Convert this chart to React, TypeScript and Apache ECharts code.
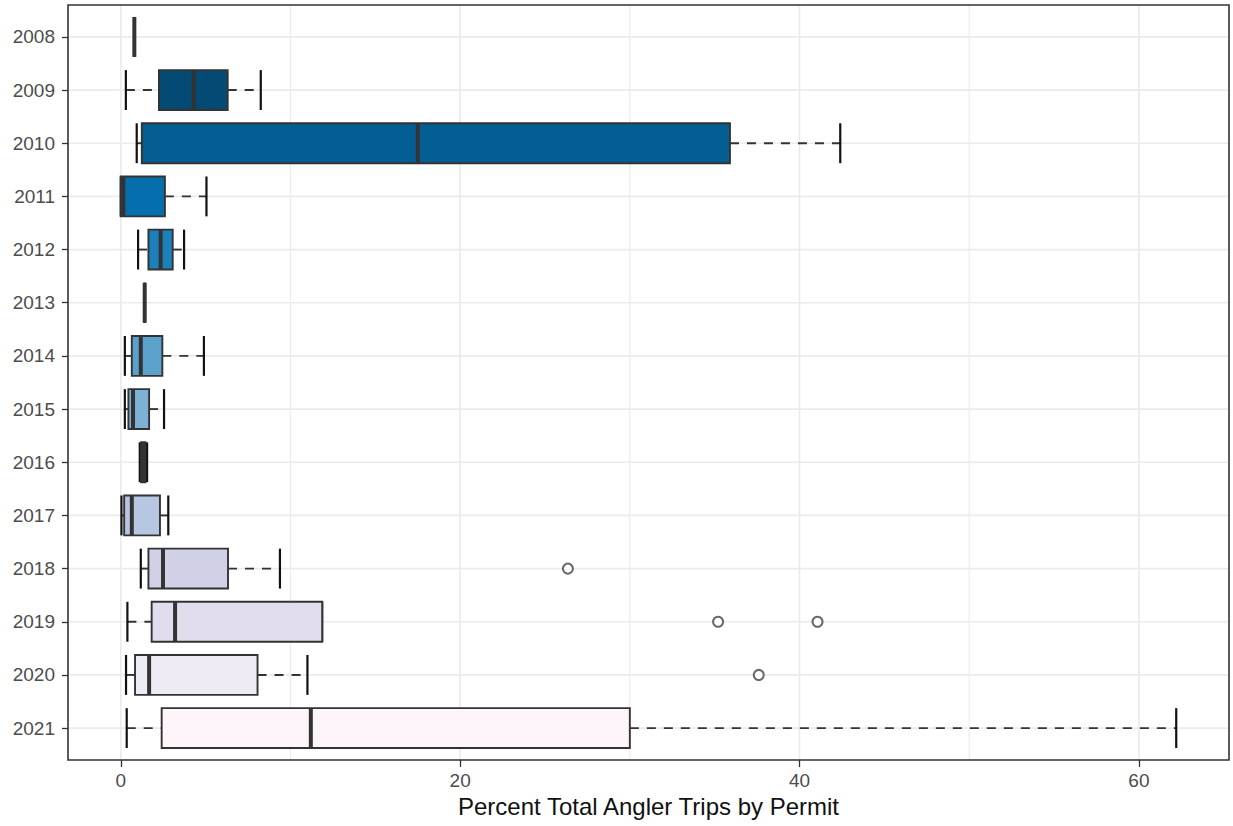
import React, { useEffect, useRef } from "react";
import * as echarts from "echarts";

const years = ["2008", "2009", "2010", "2011", "2012", "2013", "2014", "2015", "2016", "2017", "2018", "2019", "2020", "2021"];
const whiskerLow = [0.8, 0.3, 0.94, 0.0, 1.02, 1.41, 0.24, 0.24, 1.12, 0.04, 1.18, 0.39, 0.31, 0.35];
const q1 = [0.8, 2.25, 1.24, 0.0, 1.63, 1.41, 0.65, 0.45, 1.2, 0.2, 1.63, 1.82, 0.84, 2.41];
const medians = [0.8, 4.3, 17.5, 0.15, 2.35, 1.41, 1.18, 0.72, 1.35, 0.65, 2.49, 3.2, 1.67, 11.2];
const q3 = [0.8, 6.3, 35.9, 2.6, 3.06, 1.41, 2.45, 1.67, 1.45, 2.31, 6.32, 11.87, 8.06, 30.0];
const whiskerHigh = [0.8, 8.25, 42.4, 5.05, 3.73, 1.41, 4.9, 2.55, 1.55, 2.8, 9.38, 11.87, 11.0, 62.2];
const fillColors = ["#023858", "#034a75", "#045e94", "#056fae", "#1b80bc", "#3a91c4", "#5aa1cc", "#7db1d6", "#9bbbdb", "#b7c6e1", "#d0d1e6", "#e1ddee", "#efebf4", "#fdf5fa"];

const outlierYears = ["2018", "2019", "2019", "2020"];
const outlierValues = [26.35, 35.2, 41.06, 37.6];

const xMajorTicks = [0, 20, 40, 60];
const xMinorTicks = [10, 30, 50];

const xTitle = "Percent Total Angler Trips by Permit";
const FONT = "'Liberation Sans', Arial, Helvetica, sans-serif";

export default function App() {
  const ref = useRef<HTMLDivElement>(null);
  useEffect(() => {
    if (!ref.current) return;
    const chart = echarts.init(ref.current, null, { renderer: "svg" });
    const rowIdx = years.map((_, i) => i);
    const boxData = years.map((_, i) => [i, whiskerLow[i], q1[i], medians[i], q3[i], whiskerHigh[i]]);
    const outData = outlierValues.map((v, k) => [v, years.indexOf(outlierYears[k])]);
    const xGridData = [
      ...xMajorTicks.map((v) => [v, 0, 1]),
      ...xMinorTicks.map((v) => [v, 0, 0]),
    ];
    const yGridData = rowIdx.map((i) => [0, i]);

    const option: any = {
      animation: false,
      textStyle: { fontFamily: FONT },
      grid: {
        left: 68,
        top: 5,
        width: 1161,
        height: 755,
        show: true,
        borderColor: "#333333",
        borderWidth: 1.6,
        backgroundColor: "#ffffff",
        containLabel: false,
      },
      xAxis: {
        type: "value",
        min: -3.11,
        max: 65.31,
        position: "bottom",
        axisLine: { show: false, onZero: false },
        axisTick: {
          show: true,
          inside: false,
          customValues: xMajorTicks,
          length: 7,
          lineStyle: { color: "#333333", width: 1.3 },
        },
        axisLabel: {
          customValues: xMajorTicks,
          fontSize: 19,
          color: "#4d4d4d",
          margin: 11,
          fontFamily: FONT,
        },
        splitLine: { show: false },
        name: xTitle,
        nameLocation: "middle",
        nameGap: 31,
        nameTextStyle: { fontSize: 24, color: "#111111", fontFamily: FONT },
      },
      yAxis: {
        type: "value",
        min: -0.6,
        max: 13.6,
        inverse: true,
        position: "left",
        axisLine: { show: false, onZero: false },
        axisTick: {
          show: true,
          inside: false,
          customValues: rowIdx,
          length: 6,
          lineStyle: { color: "#333333", width: 1.3 },
        },
        axisLabel: {
          customValues: rowIdx,
          formatter: (v: number) => years[Math.round(v)] ?? "",
          fontSize: 19,
          color: "#4d4d4d",
          margin: 13,
          fontFamily: FONT,
        },
        splitLine: { show: false },
      },
      series: [
        {
          type: "custom",
          name: "xgrid",
          z: 0,
          silent: true,
          data: xGridData,
          encode: { x: 0, y: 1 },
          renderItem: (params: any, api: any) => {
            const cs = params.coordSys;
            const x = api.coord([api.value(0), 0])[0];
            const major = api.value(2) === 1;
            return {
              type: "line",
              shape: { x1: x, y1: cs.y + 1, x2: x, y2: cs.y + cs.height - 1 },
              style: { stroke: "#ebebeb", lineWidth: major ? 1.7 : 1.2 },
            };
          },
        },
        {
          type: "custom",
          name: "ygrid",
          z: 0,
          silent: true,
          data: yGridData,
          encode: { x: 0, y: 1 },
          renderItem: (params: any, api: any) => {
            const cs = params.coordSys;
            const y = api.coord([0, api.value(1)])[1];
            return {
              type: "line",
              shape: { x1: cs.x + 1, y1: y, x2: cs.x + cs.width - 1, y2: y },
              style: { stroke: "#ebebeb", lineWidth: 1.7 },
            };
          },
        },
        {
          type: "custom",
          name: "boxes",
          z: 3,
          data: boxData,
          encode: { y: 0, x: [1, 2, 3, 4, 5] },
          renderItem: (params: any, api: any) => {
            const i = api.value(0);
            const lo = api.coord([api.value(1), i]);
            const b1 = api.coord([api.value(2), i]);
            const md = api.coord([api.value(3), i]);
            const b3 = api.coord([api.value(4), i]);
            const hi = api.coord([api.value(5), i]);
            const h = Math.abs(api.size([0, 0.75])[1]);
            const cy = lo[1];
            const top = cy - h / 2;
            const bot = cy + h / 2;
            const dark = "#333333";
            const dash = [9, 8];
            return {
              type: "group",
              children: [
                {
                  type: "line",
                  shape: { x1: lo[0], y1: cy, x2: b1[0], y2: cy },
                  style: { stroke: dark, lineWidth: 1.9, lineDash: dash },
                },
                {
                  type: "line",
                  shape: { x1: b3[0], y1: cy, x2: hi[0], y2: cy },
                  style: { stroke: dark, lineWidth: 1.9, lineDash: dash },
                },
                {
                  type: "line",
                  shape: { x1: lo[0], y1: top, x2: lo[0], y2: bot },
                  style: { stroke: "#111111", lineWidth: 2.2 },
                },
                {
                  type: "line",
                  shape: { x1: hi[0], y1: top, x2: hi[0], y2: bot },
                  style: { stroke: "#111111", lineWidth: 2.2 },
                },
                {
                  type: "rect",
                  shape: { x: b1[0], y: top, width: Math.max(b3[0] - b1[0], 0), height: h },
                  style: { fill: fillColors[i], stroke: dark, lineWidth: 1.9 },
                },
                {
                  type: "line",
                  shape: { x1: md[0], y1: top, x2: md[0], y2: bot },
                  style: { stroke: dark, lineWidth: 4 },
                },
              ],
            };
          },
        },
        {
          type: "scatter",
          name: "outliers",
          z: 4,
          data: outData,
          symbol: "emptyCircle",
          symbolSize: 10,
          itemStyle: { color: "#444444", borderColor: "#444444", borderWidth: 1.8 },
        },
      ],
    };
    chart.setOption(option);
    return () => chart.dispose();
  }, []);
  return (
    <div
      ref={ref}
      style={{ position: "absolute", left: 0, top: 0, width: 1233, height: 826, background: "#ffffff" }}
    />
  );
}
